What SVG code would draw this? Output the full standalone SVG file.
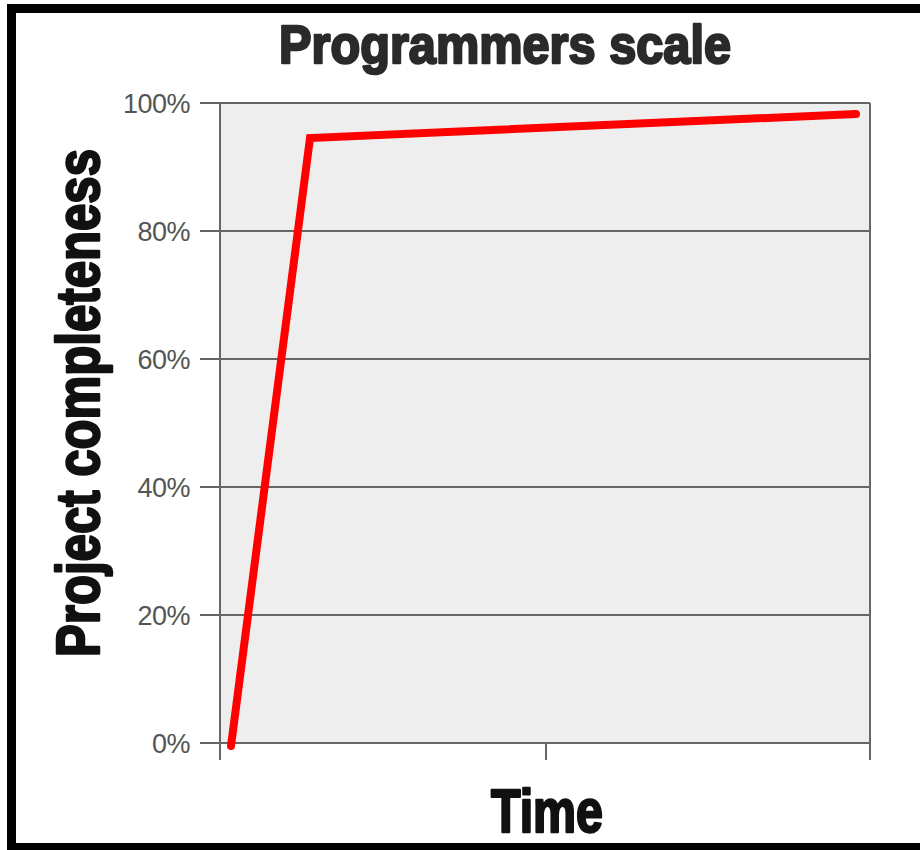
<svg xmlns="http://www.w3.org/2000/svg" width="920" height="850" viewBox="0 0 920 850">
<style>
.grid{stroke:#666;stroke-width:2;fill:none}
.tick{font-family:"Liberation Sans",Arial,sans-serif;font-size:27px;fill:#555;text-anchor:end;letter-spacing:-0.5px}
.heavy{font-family:"Liberation Sans",Arial,sans-serif;font-weight:bold;fill:#111;stroke:#111;stroke-width:2.5;stroke-linejoin:round}
</style>
<rect x="0" y="0" width="920" height="850" fill="#fff"/>
<defs>
<radialGradient id="sh" cx="0.75" cy="1" r="0.6" gradientTransform="translate(0.75 1) scale(1 0.12) translate(-0.75 -1)">
<stop offset="0" stop-color="#e4e4e4"/>
<stop offset="1" stop-color="#fff" stop-opacity="0"/>
</radialGradient>
</defs>
<rect x="300" y="800" width="620" height="45" fill="url(#sh)"/>
<g id="frame" fill="#000">
<rect x="7" y="4" width="913" height="9"/>
<rect x="7" y="4" width="9" height="846"/>
<rect x="7" y="843" width="913" height="7"/>
</g>
<g id="title"><text class="heavy" x="279" y="63" font-size="54" textLength="452" lengthAdjust="spacingAndGlyphs" style="fill:#2a2a2a;stroke:#2a2a2a">Programmers scale</text></g>
<g id="plot">
<rect x="220" y="103" width="650" height="640" fill="#eeeeee"/>
<path class="grid" d="M200 103H870M200 231H870M200 359H870M200 487H870M200 615H870M200 743H870"/>
<path class="grid" d="M220 103V760M870 103V760M546 743V760"/>
</g>
<g id="ylabels">
<text class="tick" x="190" y="113">100%</text>
<text class="tick" x="190" y="241">80%</text>
<text class="tick" x="190" y="369">60%</text>
<text class="tick" x="190" y="497">40%</text>
<text class="tick" x="190" y="625">20%</text>
<text class="tick" x="190" y="753">0%</text>
</g>
<g id="axis-y-title"><text class="heavy" transform="translate(99,657) rotate(-90)" x="0" y="0" font-size="62" textLength="508" lengthAdjust="spacingAndGlyphs">Project completeness</text></g>
<g id="axis-x-title"><text class="heavy" x="491" y="832" font-size="62" textLength="112" lengthAdjust="spacingAndGlyphs">Time</text></g>
<g id="connectors">
<polyline points="231,746 310,138 856,114" fill="none" stroke="#ff0000" stroke-width="8" stroke-linecap="round" stroke-linejoin="miter"/>
</g>
</svg>
